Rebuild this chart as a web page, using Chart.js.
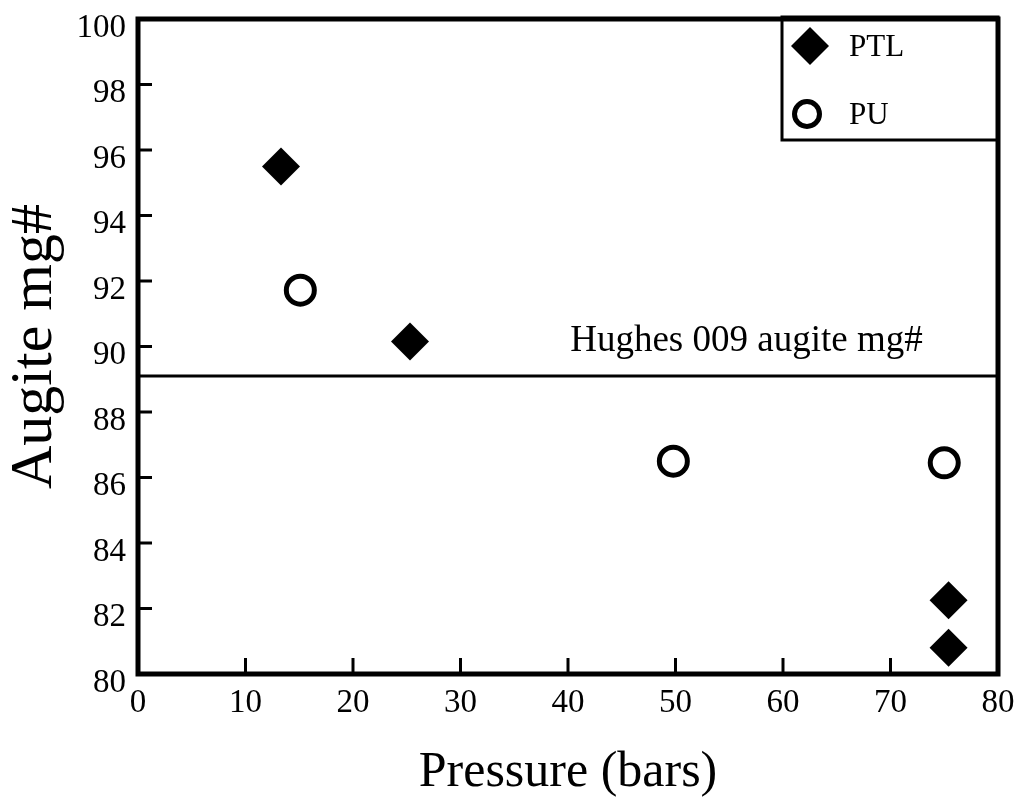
<!DOCTYPE html>
<html>
<head>
<meta charset="utf-8">
<script src="https://cdn.jsdelivr.net/npm/chart.js@4/dist/chart.umd.min.js"></script>
<style>
  html, body { margin: 0; padding: 0; background: #fff; }
  #wrap { width: 1018px; height: 810px; }
</style>
</head>
<body>
<div id="wrap"><canvas id="augiteChart" width="1018" height="810"></canvas></div>
<script>
// values
var ptlPressure = [13.3, 25.3, 75.4, 75.4];
var ptlMg = [95.5, 90.15, 82.25, 80.8];
var puPressure = [15.1, 49.8, 75.0];
var puMg = [91.72, 86.5, 86.45];
var hughesMg = 89.1;
var hughesLabel = "Hughes 009 augite mg#";
var xTicks = [0, 10, 20, 30, 40, 50, 60, 70, 80];
var yTicks = [80, 82, 84, 86, 88, 90, 92, 94, 96, 98, 100];

var serif = "'Liberation Serif', 'Times New Roman', serif";

function toPoints(xs, ys) {
    return xs.map(function (x, i) { return { x: x, y: ys[i] }; });
}

// frame, inward ticks, reference label and the boxed legend
var framePlugin = {
    id: "frame",
    afterDatasetsDraw: function (chart) {
        var ctx = chart.ctx;
        var a = chart.chartArea;
        var xs = chart.scales.x, ys = chart.scales.y;
        ctx.save();
        ctx.strokeStyle = "#000";

        // inward tick marks
        ctx.lineWidth = 3;
        yTicks.slice(1, -1).forEach(function (v) {
            var py = ys.getPixelForValue(v);
            ctx.beginPath();
            ctx.moveTo(a.left, py);
            ctx.lineTo(a.left + 14, py);
            ctx.stroke();
        });
        xTicks.slice(1, -1).forEach(function (v) {
            var px = xs.getPixelForValue(v);
            ctx.beginPath();
            ctx.moveTo(px, a.bottom);
            ctx.lineTo(px, a.bottom - 16);
            ctx.stroke();
        });

        // label above the reference line
        ctx.fillStyle = "#000";
        ctx.font = "37px " + serif;
        ctx.textAlign = "center";
        ctx.textBaseline = "alphabetic";
        ctx.fillText(hughesLabel, xs.getPixelForValue(56.6), ys.getPixelForValue(hughesMg) - 25);

        // legend box in the upper right corner
        var bx = a.right - 216, by = a.top - 2, bw = 216, bh = 123;
        ctx.lineWidth = 3;
        ctx.strokeRect(bx, by, bw, bh);
        var mx = bx + 28;
        var r = 19;
        var y1 = by + 29, y2 = by + 97;
        ctx.beginPath();
        ctx.moveTo(mx, y1 - r);
        ctx.lineTo(mx + r, y1);
        ctx.lineTo(mx, y1 + r);
        ctx.lineTo(mx - r, y1);
        ctx.closePath();
        ctx.fill();
        ctx.lineWidth = 5;
        ctx.beginPath();
        ctx.arc(mx - 3, y2, 12.5, 0, Math.PI * 2);
        ctx.stroke();
        ctx.font = "31px " + serif;
        ctx.textAlign = "left";
        ctx.textBaseline = "middle";
        ctx.fillText("PTL", bx + 67, y1 + 2);
        ctx.fillText("PU", bx + 67, y2 + 2);

        // plot frame
        ctx.lineWidth = 5;
        ctx.strokeRect(a.left, a.top, a.right - a.left, a.bottom - a.top);
        ctx.restore();
    }
};

var chart = new Chart(document.getElementById("augiteChart"), {
    type: "scatter",
    data: {
        datasets: [{
                label: "PTL",
                data: toPoints(ptlPressure, ptlMg),
                pointStyle: "rectRot",
                pointRadius: 19,
                pointHoverRadius: 19,
                backgroundColor: "#000",
                borderColor: "#000",
                borderWidth: 0
            }, {
                label: "PU",
                data: toPoints(puPressure, puMg),
                pointStyle: "circle",
                pointRadius: 14,
                pointHoverRadius: 14,
                backgroundColor: "#fff",
                borderColor: "#000",
                borderWidth: 5
            }, {
                type: "line",
                label: "Hughes 009",
                data: [{ x: xTicks[0], y: hughesMg }, { x: xTicks[xTicks.length - 1], y: hughesMg }],
                borderColor: "#000",
                borderWidth: 3,
                pointRadius: 0,
                fill: false
            }]
    },
    options: {
        responsive: false,
        animation: false,
        layout: {
            padding: { top: 16, right: 20, left: 0, bottom: 0 }
        },
        scales: {
            x: {
                type: "linear",
                min: 0,
                max: 80,
                afterFit: function (scale) {
                    scale.height = 136;
                    scale.paddingLeft = 0;
                    scale.paddingRight = 0;
                },
                afterBuildTicks: function (scale) {
                    scale.ticks = xTicks.map(function (v) { return { value: v }; });
                },
                grid: { display: false },
                border: { display: false },
                ticks: {
                    color: "#000",
                    padding: 2,
                    font: { family: serif, size: 33 }
                },
                title: {
                    display: true,
                    text: "Pressure (bars)",
                    color: "#000",
                    font: { family: serif, size: 50, lineHeight: 1 },
                    padding: { top: 0, bottom: 12 }
                }
            },
            y: {
                type: "linear",
                min: 80,
                max: 100,
                afterFit: function (scale) {
                    scale.width = 138;
                    scale.paddingTop = 0;
                    scale.paddingBottom = 0;
                },
                afterBuildTicks: function (scale) {
                    scale.ticks = yTicks.map(function (v) { return { value: v }; });
                },
                grid: { display: false },
                border: { display: false },
                ticks: {
                    color: "#000",
                    padding: 4,
                    labelOffset: 9,
                    font: { family: serif, size: 33 }
                },
                title: {
                    display: true,
                    text: "Augite mg#",
                    color: "#000",
                    font: { family: serif, size: 60, lineHeight: 1 },
                    padding: { top: 5, bottom: 0 }
                }
            }
        },
        plugins: {
            legend: { display: false },
            tooltip: { enabled: false }
        }
    },
    plugins: [framePlugin]
});
</script>
</body>
</html>
